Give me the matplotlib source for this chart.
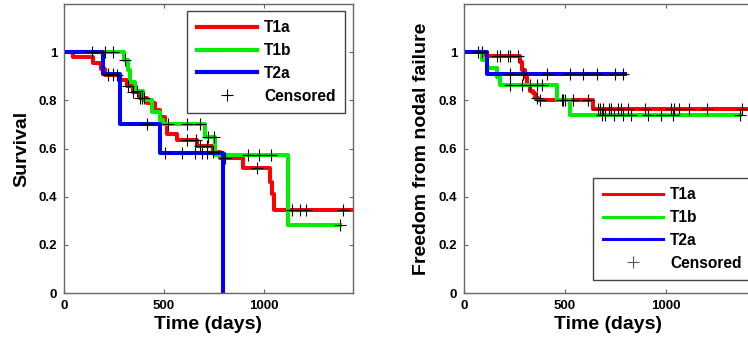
import numpy as np
import matplotlib
matplotlib.use('Agg')
from matplotlib import pyplot as plt

# ---- Left panel: overall survival (Kaplan-Meier steps) ----
os_t1a_t = [0, 45, 145, 185, 205, 280, 315, 345, 380, 415, 455, 480, 505, 515,
            565, 665, 745, 780, 895, 1030, 1040, 1050, 1445]
os_t1a_s = [1.0, 0.98, 0.955, 0.93, 0.905, 0.885, 0.86, 0.835, 0.81, 0.79, 0.76,
            0.73, 0.70, 0.66, 0.635, 0.61, 0.585, 0.56, 0.52, 0.46, 0.41, 0.345, 0.345]
os_t1a_cens = [220, 245, 265, 320, 345, 380, 390, 400, 615, 660, 680, 715, 745,
               805, 965, 1140, 1180, 1210, 1395]

os_t1b_t = [0, 300, 320, 330, 355, 395, 440, 480, 495, 705, 755, 1120, 1380]
os_t1b_s = [1.0, 0.967, 0.925, 0.875, 0.84, 0.80, 0.75, 0.717, 0.70, 0.646,
            0.571, 0.283, 0.283]
os_t1b_cens = [205, 245, 305, 365, 520, 615, 680, 720, 750, 920, 975, 1035, 1380]

os_t2a_t = [0, 195, 280, 480, 795]
os_t2a_s = [1.0, 0.91, 0.70, 0.58, 0.0]
os_t2a_cens = [140, 220, 245, 415, 505, 590, 655, 690, 715]

# ---- Right panel: freedom from nodal failure ----
nf_t1a_t = [0, 110, 277, 287, 302, 312, 327, 341, 351, 366, 640, 1400]
nf_t1a_s = [1.0, 0.983, 0.958, 0.925, 0.896, 0.8625, 0.84, 0.83, 0.81, 0.80,
            0.7625, 0.7625]
nf_t1a_cens = [163, 178, 218, 228, 267, 325, 361, 376, 490, 540, 615, 665, 675,
               690, 715, 725, 760, 775, 810, 895, 1025, 1040, 1065, 1115, 1200,
               1375]

nf_t1b_t = [0, 89, 114, 163, 178, 193, 460, 525, 1366]
nf_t1b_s = [1.0, 0.967, 0.933, 0.896, 0.8625, 0.8625, 0.80, 0.7375, 0.7375]
nf_t1b_cens = [228, 287, 361, 386, 485, 500, 685, 700, 740, 785, 825, 910, 975,
               1035, 1366]

nf_t2a_t = [0, 114, 797]
nf_t2a_s = [1.0, 0.91, 0.91]
nf_t2a_cens = [70, 90, 228, 292, 411, 525, 589, 658, 747, 787]

group_names = ['T1a', 'T1b', 'T2a']
group_colors = ['#ff0000', '#00ee00', '#0000ff']

yticks = [0, 0.2, 0.4, 0.6, 0.8, 1]
ytick_labels = ['0', '0.2', '0.4', '0.6', '0.8', '1']
xticks = [0, 500, 1000]

plt.rcParams['font.family'] = ['Liberation Sans', 'DejaVu Sans']
plt.rcParams['font.weight'] = 'bold'

W, H = 748, 347
fig = plt.figure(figsize=(W / 100, H / 100), dpi=100)


def step_value(times, surv, t):
    idx = np.searchsorted(times, t, side='right') - 1
    return surv[max(idx, 0)]


def draw_panel(ax, curves, xmax, ylabel, legend_lw, legend_loc, anchor,
               cens_color):
    for (times, surv, cens), name, col in zip(curves, group_names, group_colors):
        ax.step(times, surv, where='post', color=col, lw=2.9, label=name,
                zorder=2)
    first = True
    for times, surv, cens in curves:
        ys = [step_value(times, surv, c) for c in cens]
        ax.plot(cens, ys, '+', color='k', ms=9, mew=0.8, zorder=3,
                label='Censored' if first else None)
        first = False

    ax.set_xlim(0, xmax)
    ax.set_ylim(0, 1.2)
    ax.set_xticks(xticks)
    ax.set_xticklabels([str(x) for x in xticks])
    ax.set_yticks(yticks)
    ax.set_yticklabels(ytick_labels)
    ax.tick_params(direction='in', length=3, width=0.8, top=True, right=True,
                   labelsize=9.5, pad=5, color='#666666')
    for lab in ax.get_xticklabels() + ax.get_yticklabels():
        lab.set_fontweight('bold')
    for sp in ax.spines.values():
        sp.set_color('#666666')
        sp.set_linewidth(1.0)
    ax.set_xlabel('Time (days)', fontsize=14, fontweight='bold', labelpad=3)
    ax.set_ylabel(ylabel, fontsize=14, fontweight='bold', labelpad=6)

    handles, labels = ax.get_legend_handles_labels()
    leg = ax.legend(handles, labels, loc=legend_loc, bbox_to_anchor=anchor,
                    borderaxespad=0, fancybox=False, framealpha=1,
                    edgecolor='#444444', handlelength=3.9, labelspacing=0.5,
                    borderpad=0.6, handletextpad=0.45,
                    prop={'weight': 'bold', 'size': 11.2})
    leg.get_frame().set_linewidth(1.0)
    for line in leg.get_lines()[:3]:
        line.set_linewidth(legend_lw)
    leg.get_lines()[3].set_color(cens_color)
    return leg


ax1 = fig.add_axes([64 / W, 1 - 293 / H, 289 / W, 289 / H])
draw_panel(ax1,
           [(os_t1a_t, os_t1a_s, os_t1a_cens),
            (os_t1b_t, os_t1b_s, os_t1b_cens),
            (os_t2a_t, os_t2a_s, os_t2a_cens)],
           1445, 'Survival', 3.0, 'upper right',
           ((345 - 64) / 289, (293 - 11) / 289), 'k')

ax2 = fig.add_axes([464 / W, 1 - 293 / H, 289 / W, 289 / H])
draw_panel(ax2,
           [(nf_t1a_t, nf_t1a_s, nf_t1a_cens),
            (nf_t1b_t, nf_t1b_s, nf_t1b_cens),
            (nf_t2a_t, nf_t2a_s, nf_t2a_cens)],
           1430, 'Freedom from nodal failure', 2.2, 'lower right',
           ((751 - 464) / 289, (293 - 280) / 289), '#555555')

fig.savefig('out.png', dpi=100)
